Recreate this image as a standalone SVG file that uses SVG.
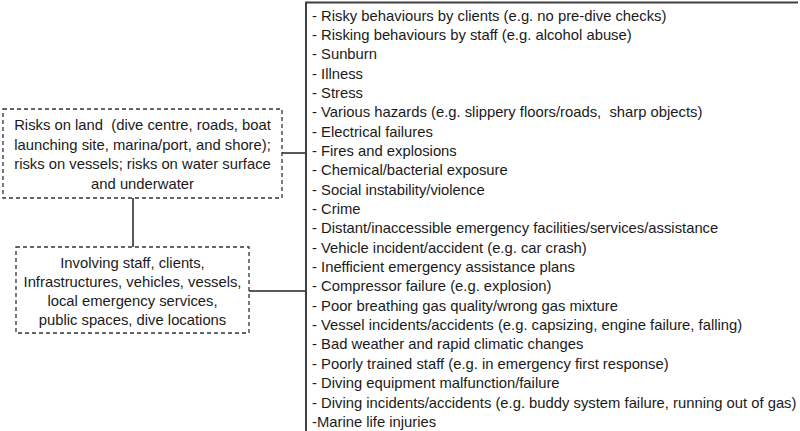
<svg xmlns="http://www.w3.org/2000/svg" width="800" height="431" viewBox="0 0 800 431">
<style>
text{font-family:"Liberation Sans",Arial,sans-serif;font-size:14.8px;fill:#1a1a1a;white-space:pre}
.c{text-anchor:middle}
.box{fill:#fff;stroke:#333;stroke-width:1.3;stroke-dasharray:4 3}
.ln{stroke:#595959;stroke-width:2;fill:none}
.list{stroke:#404040;stroke-width:2;fill:none}
</style>
<rect width="800" height="431" fill="#fff"/>
<g id="connectors">
<line class="ln" x1="282" y1="153" x2="306" y2="153"/>
<line class="ln" x1="249" y1="291" x2="306" y2="291"/>
<line class="ln" x1="133" y1="198" x2="133" y2="247"/>
</g>
<g id="node-risks-on-land">
<rect class="box" x="3" y="109" width="279" height="89"/>
<text class="c" x="142.5" y="130" xml:space="preserve">Risks on land  (dive centre, roads, boat</text>
<text class="c" x="142.5" y="149.5">launching site, marina/port, and shore);</text>
<text class="c" x="142.5" y="169">risks on vessels; risks on water surface</text>
<text class="c" x="142.5" y="188.5">and underwater</text>
</g>
<g id="node-involving">
<rect class="box" x="16" y="247" width="233" height="86"/>
<text class="c" x="132.5" y="268">Involving staff, clients,</text>
<text class="c" x="132.5" y="287">Infrastructures, vehicles, vessels,</text>
<text class="c" x="132.5" y="306">local emergency services,</text>
<text class="c" x="132.5" y="325">public spaces, dive locations</text>
</g>
<g id="node-risk-list">
<path class="list" d="M306 431 V2.5 H798"/>
<text x="312" y="20.5">- Risky behaviours by clients (e.g. no pre-dive checks)</text>
<text x="312" y="39.85">- Risking behaviours by staff (e.g. alcohol abuse)</text>
<text x="312" y="59.2">- Sunburn</text>
<text x="312" y="78.55">- Illness</text>
<text x="312" y="97.9">- Stress</text>
<text x="312" y="117.25" xml:space="preserve">- Various hazards (e.g. slippery floors/roads,  sharp objects)</text>
<text x="312" y="136.6">- Electrical failures</text>
<text x="312" y="155.95">- Fires and explosions</text>
<text x="312" y="175.3">- Chemical/bacterial exposure</text>
<text x="312" y="194.65">- Social instability/violence</text>
<text x="312" y="214">- Crime</text>
<text x="312" y="233.35">- Distant/inaccessible emergency facilities/services/assistance</text>
<text x="312" y="252.7">- Vehicle incident/accident (e.g. car crash)</text>
<text x="312" y="272.05">- Inefficient emergency assistance plans</text>
<text x="312" y="291.4">- Compressor failure (e.g. explosion)</text>
<text x="312" y="310.75">- Poor breathing gas quality/wrong gas mixture</text>
<text x="312" y="330.1">- Vessel incidents/accidents (e.g. capsizing, engine failure, falling)</text>
<text x="312" y="349.45">- Bad weather and rapid climatic changes</text>
<text x="312" y="368.8">- Poorly trained staff (e.g. in emergency first response)</text>
<text x="312" y="388.15">- Diving equipment malfunction/failure</text>
<text x="312" y="407.5">- Diving incidents/accidents (e.g. buddy system failure, running out of gas)</text>
<text x="312" y="426.85">-Marine life injuries</text>
</g>
</svg>
